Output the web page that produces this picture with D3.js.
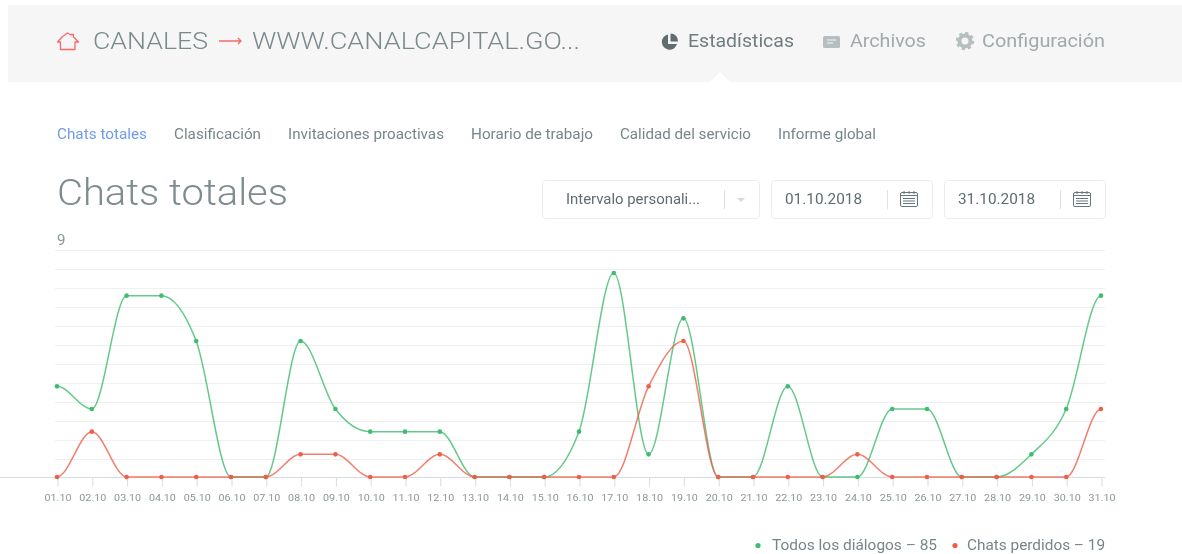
<!DOCTYPE html>
<html lang="es"><head><meta charset="utf-8">
<script src="https://cdn.jsdelivr.net/npm/d3@7"></script>
<style>
html,body{margin:0;padding:0;background:#fff;overflow:hidden}
text{font-family:Roboto,sans-serif}
svg{filter:blur(.35px)}
</style></head><body><svg id="c" width="1182" height="554"></svg>
<script>
const days = ["01.10","02.10","03.10","04.10","05.10","06.10","07.10","08.10","09.10","10.10","11.10","12.10","13.10","14.10","15.10","16.10","17.10","18.10","19.10","20.10","21.10","22.10","23.10","24.10","25.10","26.10","27.10","28.10","29.10","30.10","31.10"];
const dialogs = [4,3,8,8,6,0,0,6,3,2,2,2,0,0,0,2,9,1,7,0,0,4,0,0,3,3,0,0,1,3,8];
const missed = [0,2,0,0,0,0,0,1,1,0,0,1,0,0,0,0,0,4,6,0,0,0,0,1,0,0,0,0,0,0,3];
const navTabs = ["Chats totales","Clasificación","Invitaciones proactivas","Horario de trabajo","Calidad del servicio","Informe global"];
const navX = [57,174,288,471,620,778];
const navW = [90,87,156,122,131,98];
const gridCount = 12;

const svg = d3.select("#c");
const green="#3fbc6e", red="#ee5f4a", grey="#8a9699";

// text stretched to its measured width, glyphs included
function label(x,y,size,fill,str,width,weight){
  return svg.append("text").attr("x",x).attr("y",y).attr("font-size",size).attr("font-weight",weight||400)
    .attr("fill",fill).attr("textLength",width).attr("lengthAdjust","spacingAndGlyphs").text(str);
}

// header
svg.append("rect").attr("x",8).attr("y",5).attr("width",1174).attr("height",77).attr("fill","#f6f6f6");
svg.append("path").attr("d","M709 83L720 72L731 83Z").attr("fill","#fff");
svg.append("path").attr("d","M57.5 42L60.5 42V49.5H75V42H78.5L73.5 37V34.5H71V35L67.5 33L62 37Z").attr("fill","none").attr("stroke","#f4696a").attr("stroke-width",1.3).attr("stroke-linejoin","round");
label(93,49,24,"#7b898c","CANALES",115,300);
svg.append("path").attr("d","M219 41H241M238 38L241 41L238 44").attr("fill","none").attr("stroke","#f4696a").attr("stroke-width",1.3);
label(252,49,24,"#7b898c","WWW.CANALCAPITAL.GO...",328,300);

// header menu
svg.append("path").attr("d","M668 34.5A7.7 7.7 0 1 0 677 44H668Z").attr("fill","#5f6d6f");
svg.append("path").attr("d","M670.5 33.5A7.5 7.5 0 0 1 678 41.5H670.5Z").attr("fill","#5f6d6f");
label(688,47,18,"#6f7d80","Estadísticas",106);
svg.append("rect").attr("x",823).attr("y",36).attr("width",17).attr("height",12).attr("rx",1.5).attr("fill","#b6bfc0");
svg.append("path").attr("d","M827 40H836M827 43H833").attr("stroke","#f6f6f6").attr("stroke-width",1.2);
label(850,47,18,"#a0aaac","Archivos",76);
svg.append("circle").attr("cx",965).attr("cy",41).attr("r",5.5).attr("fill","none").attr("stroke","#b6bfc0").attr("stroke-width",4);
svg.append("circle").attr("cx",965).attr("cy",41).attr("r",8).attr("fill","none").attr("stroke","#b6bfc0").attr("stroke-width",2.4).attr("stroke-dasharray","3.2 3.08");
label(982,47,18,"#a0aaac","Configuración",123);

// tabs
navTabs.forEach((t,i)=>label(navX[i],139,14.5,i===0?"#6f9be8":"#77858a",t,navW[i]));

// title
label(57,205,36,"#7f8c8f","Chats totales",231,300);

// controls
function box(x,w){svg.append("rect").attr("x",x+.5).attr("y",180.5).attr("width",w).attr("height",38).attr("rx",3).attr("fill","#fff").attr("stroke","#ececec");}
function sep(x){svg.append("path").attr("d",`M${x+.5} 190V209`).attr("stroke","#dfe3e3");}
box(542,217);
label(566,204,14,"#5f6d70","Intervalo personali...",134);
sep(724);
svg.append("path").attr("d","M737 198H745L741 202Z").attr("fill","#d5d9da");
function cal(x){
  svg.append("rect").attr("x",x+.5).attr("y",192.5).attr("width",17).attr("height",14).attr("rx",1.5).attr("fill","none").attr("stroke","#66777a");
  svg.append("path").attr("d",`M${x+4} 191V194M${x+9} 191V194M${x+14} 191V194M${x+.5} 195.5H${x+17.5}M${x+3} 198.5H${x+15}M${x+3} 201H${x+15}M${x+3} 203.5H${x+15}`).attr("stroke","#66777a");
}
box(771,161);
label(785,204,14,"#5f6d70","01.10.2018",77);
sep(887); cal(900);
box(944,161);
label(958,204,14,"#5f6d70","31.10.2018",77);
sep(1060); cal(1073);

// chart
const x = d3.scalePoint().domain(days).range([57,1101]);
const y = d3.scaleLinear().domain([0,9]).range([477,273]);
const gridY = d3.scaleLinear().domain([0,gridCount]).range([477.5,249.5]);
svg.append("g").selectAll("line").data(d3.range(1,gridCount+1)).join("line")
  .attr("x1",55).attr("x2",1105).attr("y1",d=>Math.round(gridY(d))+.5).attr("y2",d=>Math.round(gridY(d))+.5)
  .attr("stroke","#eef0f0").attr("stroke-width",1.2);
label(57,245,14,"#8a9699","9",8.5);

const ax = svg.append("g").attr("transform","translate(0.5,477.5)").call(d3.axisBottom(x).tickSize(9).tickPadding(8));
ax.select(".domain").attr("d","M-0.5 0H1104.5").attr("stroke","#d5dcdf").attr("fill","none");
ax.selectAll(".tick line").attr("stroke","#d5dcdf");
ax.selectAll(".tick text").attr("font-family","Roboto,sans-serif").attr("font-size",9.5).attr("fill",grey)
  .attr("textLength",27).attr("lengthAdjust","spacingAndGlyphs");

// flat end tangents, as in the reference: the first and last values are held one step beyond the plot and clipped
const step = x.step();
svg.append("clipPath").attr("id","plot").append("rect").attr("x",x(days[0])).attr("y",240).attr("width",x(days[30])-x(days[0])).attr("height",245);
const line = d3.line().x((d,i)=>x(days[0])+(i-1)*step).y(d=>y(d)).curve(d3.curveMonotoneX);
[[dialogs,green],[missed,red]].forEach(([vals,c])=>{
  const held=[vals[0],...vals,vals[vals.length-1]];
  svg.append("path").datum(held).attr("d",line).attr("clip-path","url(#plot)").attr("fill","none").attr("stroke",c).attr("stroke-width",1.5).attr("stroke-opacity",.8);
  svg.append("g").selectAll("circle").data(vals).join("circle")
    .attr("cx",(d,i)=>x(days[i])).attr("cy",d=>y(d)).attr("r",2.3).attr("fill",c);
});

// legend
svg.append("circle").attr("cx",758).attr("cy",545.5).attr("r",2.6).attr("fill",green);
label(772,550,14,"#77858a","Todos los diálogos – "+d3.sum(dialogs),165);
svg.append("circle").attr("cx",955).attr("cy",545.5).attr("r",2.6).attr("fill",red);
label(967,550,14,"#77858a","Chats perdidos – "+d3.sum(missed),138);
</script></body></html>
